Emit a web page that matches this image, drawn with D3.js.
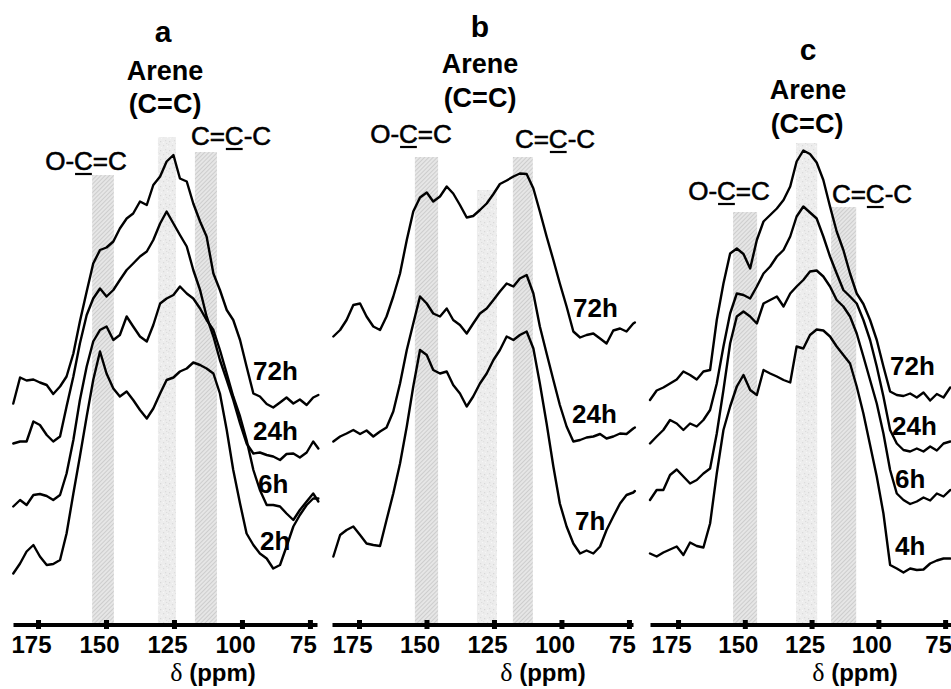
<!DOCTYPE html>
<html><head><meta charset="utf-8">
<script src="https://cdn.jsdelivr.net/npm/d3@7"></script>
<style>
body{margin:0;background:#fff}
svg{display:block;background:#fff}
text{font-family:"Liberation Sans",Arial,sans-serif;fill:#000}
</style>
</head><body>
<svg id="chart" width="951" height="689"></svg>
<script>
// ---------- DATA ----------
const tickValues = [175, 150, 125, 100, 75];

// Panel a: chemical shift grid (ppm) and spectra intensities (a.u.)
const ppmA = [184.1,181.6,179.2,176.7,174.3,171.8,169.4,166.9,164.5,162.0,159.6,157.1,154.7,152.2,149.8,147.3,144.9,142.4,140.0,137.5,135.0,132.6,130.1,127.7,125.2,122.8,120.3,117.9,115.4,113.0,110.5,108.1,105.6,103.2,100.7,98.3,95.8,93.4,90.9,88.5,86.0,83.6,81.1,78.7,76.2,73.8,71.9];
const a72h = [44.1,49.3,48.7,48.9,48.3,47.8,46.0,47.5,49.5,54.1,60.5,66.5,72.1,74.8,75.3,76.5,79.1,81.1,82.1,84.5,83.8,87.8,89.5,92.5,93.8,89.1,88.5,84.1,80.5,77.5,70.1,66.8,62.8,60.8,56.8,51.5,46.1,45.5,44.0,43.3,44.3,45.3,44.1,44.9,43.8,45.3,45.8];
const a24h = [36.1,36.5,36.5,40.5,39.8,37.8,36.5,37.5,43.5,49.5,56.1,61.8,65.1,67.1,65.5,66.8,68.8,70.8,72.1,73.5,74.5,76.8,80.1,82.5,80.1,77.8,75.5,70.8,66.8,61.5,57.5,52.8,48.8,44.8,40.1,36.1,34.1,34.3,33.8,33.5,32.8,34.0,34.1,33.3,34.3,36.5,35.1];
const a6h = [23.5,24.8,23.8,25.8,26.0,25.6,24.8,25.8,30.1,36.8,44.8,51.5,56.5,58.8,59.5,56.8,57.8,61.5,59.5,57.5,56.5,59.8,64.1,65.1,65.8,67.5,66.1,65.1,63.1,60.8,58.8,54.8,50.1,45.5,41.5,36.8,30.8,26.8,23.8,23.8,23.5,22.1,20.8,22.8,24.5,26.1,24.5];
const a2h = [10.1,12.1,14.5,15.8,13.5,11.8,12.0,12.8,18.1,26.1,33.5,41.5,48.8,54.5,50.1,47.1,45.5,46.5,44.8,42.8,41.1,43.1,46.1,48.8,49.3,50.5,51.1,52.3,51.8,51.1,50.1,46.1,38.8,30.8,24.1,18.1,15.8,14.1,13.1,11.1,11.8,15.5,19.5,21.8,23.8,25.1,25.1];

// Panel b
const ppmB = [184.5,182.0,179.6,177.1,174.6,172.2,169.7,167.2,164.8,162.3,159.8,157.3,154.9,152.4,149.9,147.5,145.0,142.5,140.1,137.6,135.1,132.7,130.2,127.7,125.2,122.8,120.3,117.8,115.4,112.9,110.4,108.0,105.5,103.0,100.6,98.1,95.6,93.1,90.7,88.2,85.7,83.3,80.8,78.3,75.9,73.4,72.8];
const b72h = [57.5,58.8,60.8,63.8,64.1,61.5,59.5,58.8,61.5,65.5,70.1,76.8,82.5,85.3,86.3,84.5,85.5,87.5,86.1,83.8,81.3,81.6,82.8,84.1,86.0,88.0,88.7,89.5,90.1,90.0,87.1,82.5,77.5,72.8,68.1,63.5,58.5,57.3,57.8,58.1,57.1,56.1,58.7,59.1,58.5,60.1,60.3];
const b24h = [36.5,37.5,38.1,38.8,38.0,38.7,37.5,38.5,39.3,42.5,48.1,54.8,60.1,65.5,64.1,62.1,61.5,63.1,60.8,59.8,58.1,60.1,62.1,63.1,64.8,66.5,68.1,67.5,69.1,69.8,66.1,59.5,54.1,48.8,43.8,39.5,36.5,36.8,37.3,37.5,38.0,37.1,37.5,38.1,38.0,39.1,39.3];
const b7h = [13.5,17.8,18.8,19.5,17.8,16.1,15.8,15.6,20.8,26.1,32.1,39.5,47.5,54.8,53.8,50.8,50.1,50.5,47.8,46.1,43.5,45.5,48.1,50.1,52.8,54.8,57.5,56.8,57.8,58.5,55.1,48.1,40.1,31.5,24.1,19.5,16.1,14.1,14.7,14.1,15.5,18.8,21.5,24.1,25.8,26.3,26.6];

// Panel c
const ppmC = [185.5,183.0,180.5,178.0,175.5,173.0,170.5,168.0,165.5,163.0,160.5,158.0,155.5,153.0,150.5,148.0,145.5,143.0,140.5,138.0,135.5,133.0,130.6,128.1,125.6,123.1,120.6,118.1,115.6,113.1,110.6,108.1,105.6,103.1,100.6,98.1,95.6,93.1,90.6,88.1,85.6,83.1,80.6,78.1,75.6,73.1];
const c72h = [44.8,46.7,47.3,48.1,48.9,50.5,49.8,48.9,50.5,50.8,60.8,68.1,74.1,75.1,74.0,71.1,76.8,80.5,81.8,83.1,84.8,87.5,92.5,94.7,94.0,92.3,88.8,83.5,78.5,74.8,70.1,66.1,64.0,60.8,56.8,51.5,46.5,45.8,45.6,46.1,45.3,46.3,44.7,46.0,45.3,47.3];
const c24h = [36.1,37.5,38.8,40.8,40.1,38.8,40.1,39.5,40.8,42.8,48.1,55.5,62.1,66.1,65.8,65.1,67.5,70.1,71.5,73.5,74.8,77.5,81.5,83.5,82.3,81.1,77.5,73.5,70.1,66.8,65.5,64.1,60.8,56.8,51.5,45.5,38.8,36.1,34.8,34.5,35.1,34.5,35.5,34.7,36.1,36.5];
const c6h = [24.8,26.8,26.8,29.8,30.9,29.5,28.1,28.8,30.1,31.1,38.1,46.8,56.1,61.5,62.5,61.5,60.1,64.1,64.8,65.5,63.5,66.1,67.5,68.8,70.5,70.7,69.5,67.5,64.8,63.5,61.5,58.1,53.5,48.8,44.1,38.1,30.8,26.1,24.8,24.0,24.5,25.3,24.7,26.1,25.5,26.8];
const c4h = [14.1,13.5,14.3,14.9,15.5,13.8,16.3,15.6,15.3,20.1,30.1,38.8,43.5,47.5,49.8,46.8,45.8,50.8,50.1,49.5,48.8,48.3,55.5,55.1,57.8,58.9,58.7,57.5,55.5,53.8,52.1,47.5,42.1,35.8,29.5,22.1,11.8,11.1,10.3,11.1,10.8,10.9,12.1,12.7,13.1,13.1];

// Highlighted shift regions: [high ppm, low ppm], and top of band (a.u.)
const bandNames = ["O-C=C", "Arene", "C=C-C"];
const bandsA = [[155.1,147.1],[130.9,124.3],[117.3,109.2]];
const bandTopA = [89.8, 97.4, 94.4];
const bandsB = [[154.3,145.7],[131.3,123.9],[118.0,110.6]];
const bandTopB = [93.4, 86.8, 93.4];
const bandsC = [[154.4,145.4],[130.8,122.9],[117.7,108.3]];
const bandTopC = [82.4, 96.2, 83.4];

const timesA = ["72h","24h","6h","2h"];
const timesB = ["72h","24h","7h"];
const timesC = ["72h","24h","6h","4h"];

// ---------- LAYOUT ----------
const svg = d3.select("#chart");
const defs = svg.append("defs");

const hatch = defs.append("pattern").attr("id","hatch")
  .attr("patternUnits","userSpaceOnUse").attr("width",3).attr("height",3)
  .attr("patternTransform","rotate(45)");
hatch.append("rect").attr("width",3).attr("height",3).attr("fill","#e6e6e6");
hatch.append("line").attr("x1",0.5).attr("y1",0).attr("x2",0.5).attr("y2",3)
  .attr("stroke","#cdcdcd").attr("stroke-width",1.0);

const stip = defs.append("pattern").attr("id","stipple")
  .attr("patternUnits","userSpaceOnUse").attr("width",9).attr("height",9);
stip.append("rect").attr("width",9).attr("height",9).attr("fill","#ededed");
[[1,1,"#dadada"],[5,2,"#f7f7f7"],[3,5,"#dcdcdc"],[7,6,"#d8d8d8"],[1,7,"#f6f6f6"],[6,0,"#e2e2e2"],[4,8,"#dddddd"],[8,3,"#f5f5f5"]]
  .forEach(([cx,cy,c]) => stip.append("rect").attr("x",cx).attr("y",cy).attr("width",1.2).attr("height",1.2).attr("fill",c));

const y = d3.scaleLinear().domain([0,100]).range([624,124]);
const axisY = 624.5;

const panels = [
  { letter:"a", ppm:ppmA, series:[a72h,a24h,a6h,a2h], times:timesA,
    xdom:[184.2,72.4], xr:[13,317], bands:bandsA, tops:bandTopA,
    L:{ letter:[163,42], arene:[165,80], cc:[165,113], occ:[86,170], ccc:[231,145], axis:213,
        times:[[253,380],[253,440],[258,493],[260,550]] } },
  { letter:"b", ppm:ppmB, series:[b72h,b24h,b7h], times:timesB,
    xdom:[185.0,73.5], xr:[332,633], bands:bandsB, tops:bandTopB,
    L:{ letter:[480,37], arene:[480,73], cc:[480,107], occ:[411,143], ccc:[555,148], axis:543,
        times:[[573,317],[572,423],[575,530]] } },
  { letter:"c", ppm:ppmC, series:[c72h,c24h,c6h,c4h], times:timesC,
    xdom:[185.5,72.8], xr:[650,951], bands:bandsC, tops:bandTopC,
    L:{ letter:[808,60], arene:[808,99], cc:[807,133], occ:[729,200], ccc:[872,203], axis:855,
        times:[[890,375],[892,435],[895,488],[895,555]] } }
];

panels.forEach(p => {
  const x = d3.scaleLinear().domain(p.xdom).range(p.xr);
  const g = svg.append("g");

  // bands
  g.selectAll("rect.band").data(p.bands).join("rect")
    .attr("class","band")
    .attr("x", d => x(d[0]))
    .attr("width", d => x(d[1]) - x(d[0]))
    .attr("y", (d,i) => y(p.tops[i]))
    .attr("height", (d,i) => axisY - y(p.tops[i]))
    .attr("fill", (d,i) => i === 1 ? "url(#stipple)" : "url(#hatch)");

  // spectra
  const line = d3.line().x((d,i) => x(p.ppm[i])).y(d => y(d));
  g.selectAll("path.spec").data(p.series).join("path")
    .attr("class","spec")
    .attr("d", line)
    .attr("fill","none").attr("stroke","#000")
    .attr("stroke-width",2.4).attr("stroke-linejoin","round").attr("stroke-linecap","round");

  // axis
  const ax = d3.axisBottom(x).tickValues(tickValues).tickSize(0).tickSizeOuter(0).tickPadding(11.5);
  const ag = g.append("g").attr("transform",`translate(0,${axisY})`).call(ax);
  ag.select(".domain").attr("stroke","#000").attr("stroke-width",4);
  ag.selectAll(".tick text").attr("dx",-7)
    .style("font-family",'"Liberation Sans",Arial,sans-serif')
    .style("font-size","24px").style("font-weight","bold").attr("fill","#000");
  ag.selectAll(".tick").append("rect")
    .attr("x",-2.5).attr("y",-4.5).attr("width",5).attr("height",9).attr("fill","#000");

  // axis title
  const at = g.append("text").attr("x",p.L.axis).attr("y",681).attr("text-anchor","middle")
    .style("font-size","24px").style("font-weight","bold");
  at.append("tspan").style("font-family",'"Liberation Serif","Times New Roman",serif')
    .style("font-weight","normal").style("font-size","26px").text("δ");
  at.append("tspan").text(" (ppm)");

  // letter & Arene
  g.append("text").attr("x",p.L.letter[0]).attr("y",p.L.letter[1]).attr("text-anchor","middle")
    .style("font-size","30px").style("font-weight","bold").text(p.letter);
  g.append("text").attr("x",p.L.arene[0]).attr("y",p.L.arene[1]).attr("text-anchor","middle")
    .style("font-size","27px").style("font-weight","bold").text(bandNames[1]);
  g.append("text").attr("x",p.L.cc[0]).attr("y",p.L.cc[1]).attr("text-anchor","middle")
    .style("font-size","27px").style("font-weight","bold").text("(C=C)");

  // group labels with underlined carbon
  [[bandNames[0], p.L.occ],[bandNames[2], p.L.ccc]].forEach(([t,pos]) => {
    const tx = g.append("text").attr("x",pos[0]).attr("y",pos[1]).attr("text-anchor","middle")
      .style("font-size","26px").attr("stroke","#000").attr("stroke-width",0.6).text(t);
    const n = tx.node();
    const s = n.getStartPositionOfChar(2).x, e = n.getEndPositionOfChar(2).x;
    g.append("line").attr("x1",s+1).attr("x2",e-1).attr("y1",pos[1]+4).attr("y2",pos[1]+4)
      .attr("stroke","#000").attr("stroke-width",2.2);
  });

  // time labels
  p.times.forEach((t,i) => {
    g.append("text").attr("x",p.L.times[i][0]).attr("y",p.L.times[i][1])
      .style("font-size","26px").style("font-weight","bold").text(t);
  });
});
</script>
</body></html>
